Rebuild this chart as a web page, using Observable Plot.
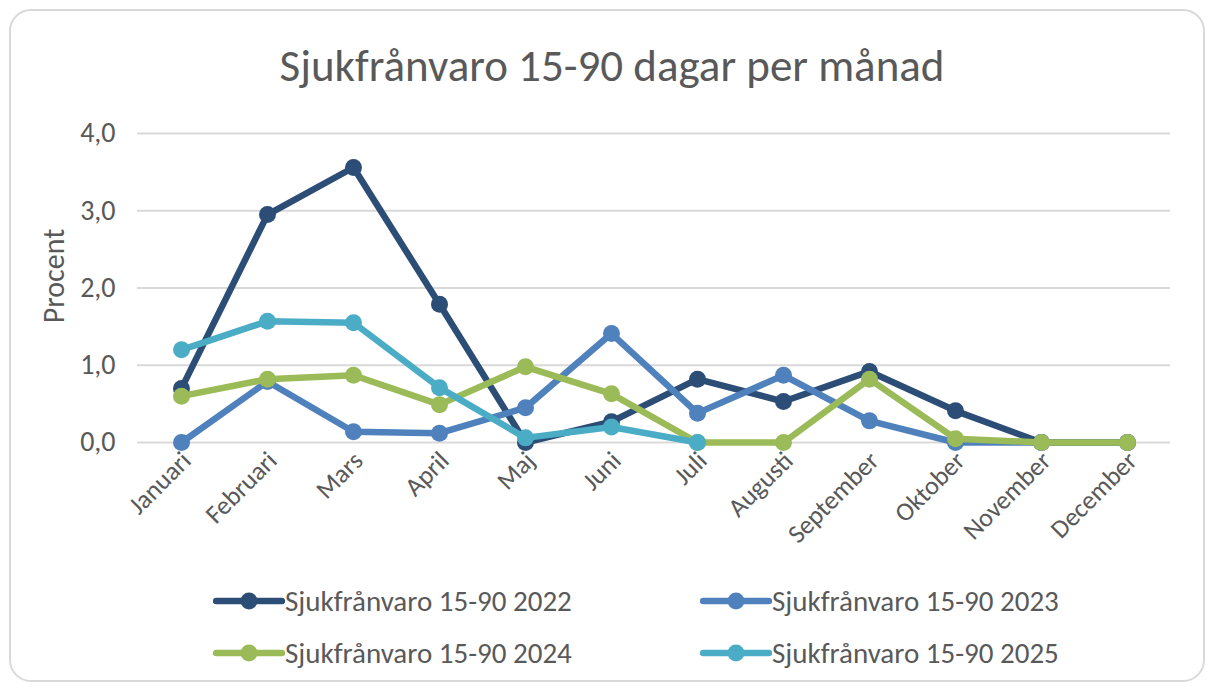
<!DOCTYPE html>
<html>
<head>
<meta charset="utf-8">
<script src="https://cdn.jsdelivr.net/npm/d3@7"></script>
<script src="https://cdn.jsdelivr.net/npm/@observablehq/plot@0.6"></script>
<style>
  html, body { margin: 0; padding: 0; background: #ffffff; }
  body { font-family: Carlito, Lato, sans-serif; color: #595959; }
  #wrap { position: relative; width: 1214px; height: 691px; overflow: hidden; }
  #card { position: absolute; left: 9px; top: 9px; width: 1196px; height: 673px; box-sizing: border-box;
          border: 2px solid #d9d9d9; border-radius: 22px; }
  #title { position: absolute; left: 10px; width: 1204px; top: 40px; line-height: 52px; font-size: 45px;
           text-align: center; color: #595959; }
  #chart { position: absolute; left: 0; top: 90px; }
  .leg { position: absolute; display: flex; align-items: center; font-size: 29px; color: #595959; white-space: nowrap; }
  .leg svg { display: block; }
</style>
</head>
<body>
<div id="wrap">
  <div id="card"></div>
  <div id="title">Sjukfrånvaro 15-90 dagar per månad</div>
  <div id="chart"></div>
  <div id="legend"></div>
</div>
<script>
const months = ["Januari","Februari","Mars","April","Maj","Juni","Juli","Augusti","September","Oktober","November","December"];
const series = ["Sjukfrånvaro 15-90 2022","Sjukfrånvaro 15-90 2023","Sjukfrånvaro 15-90 2024","Sjukfrånvaro 15-90 2025"];
const colors = ["#2c4d75","#4f81bd","#9bbb59","#4bacc6"];
const v2022 = [0.70, 2.95, 3.56, 1.79, 0.00, 0.27, 0.82, 0.53, 0.92, 0.41, 0.00, 0.00];
const v2023 = [0.00, 0.79, 0.14, 0.12, 0.45, 1.41, 0.38, 0.87, 0.28, 0.00, 0.00, 0.00];
const v2024 = [0.60, 0.82, 0.87, 0.49, 0.98, 0.63, 0.00, 0.00, 0.82, 0.05, 0.00, 0.00];
const v2025 = [1.20, 1.57, 1.55, 0.71, 0.06, 0.20, 0.00, null, null, null, null, null];
const yTicks = [0, 1, 2, 3, 4];
const yLabel = "Procent";

const allValues = [v2022, v2023, v2024, v2025];
const rows = [];
allValues.forEach((vals, si) => {
  vals.forEach((v, mi) => {
    if (v !== null) rows.push({series: series[si], month: months[mi], value: v});
  });
});

const marks = [
  Plot.gridY(yTicks, {stroke: "#d9d9d9", strokeWidth: 2, strokeOpacity: 1}),
  Plot.axisY({ticks: yTicks, tickFormat: d => d.toFixed(1).replace(".", ","), tickSize: 0, tickPadding: 22, label: null, fontSize: 28}),
  Plot.axisX({tickRotate: -45, tickSize: 0, tickPadding: 14, dx: 5, label: null, fontSize: 26}),
  Plot.text([yLabel], {text: d => d, frameAnchor: "left", textAnchor: "middle", rotate: -90, dx: -83, dy: -12, fontSize: 30, fill: "#595959"})
];
series.forEach((s, i) => {
  const d = rows.filter(r => r.series === s);
  marks.push(Plot.line(d, {x: "month", y: "value", stroke: colors[i], strokeWidth: 6.5, strokeLinejoin: "round", strokeLinecap: "round"}));
  marks.push(Plot.dot(d, {x: "month", y: "value", fill: colors[i], r: 8.5}));
});

const chart = Plot.plot({
  width: 1214,
  height: 470,
  marginTop: 43,
  marginBottom: 118,
  marginLeft: 137,
  marginRight: 44,
  style: {fontFamily: "Carlito, Lato, sans-serif", color: "#595959", background: "transparent", overflow: "visible"},
  x: {type: "point", domain: months, padding: 0.5},
  y: {domain: [0, 4]},
  marks
});
document.getElementById("chart").appendChild(chart);

// legend
const legPos = [[213, 601], [700, 601], [213, 653], [700, 653]];
const leg = document.getElementById("legend");
series.forEach((s, i) => {
  const div = document.createElement("div");
  div.className = "leg";
  div.style.left = legPos[i][0] + "px";
  div.style.top = (legPos[i][1] - 20) + "px";
  div.style.height = "40px";
  const sw = d3.create("svg").attr("width", 72).attr("height", 40);
  sw.append("line").attr("x1", 3).attr("x2", 69).attr("y1", 20).attr("y2", 20)
    .attr("stroke", colors[i]).attr("stroke-width", 6.5).attr("stroke-linecap", "round");
  sw.append("circle").attr("cx", 36).attr("cy", 20).attr("r", 8.5).attr("fill", colors[i]);
  div.appendChild(sw.node());
  const t = document.createElement("span");
  t.textContent = s;
  div.appendChild(t);
  leg.appendChild(div);
});
</script>
</body>
</html>
